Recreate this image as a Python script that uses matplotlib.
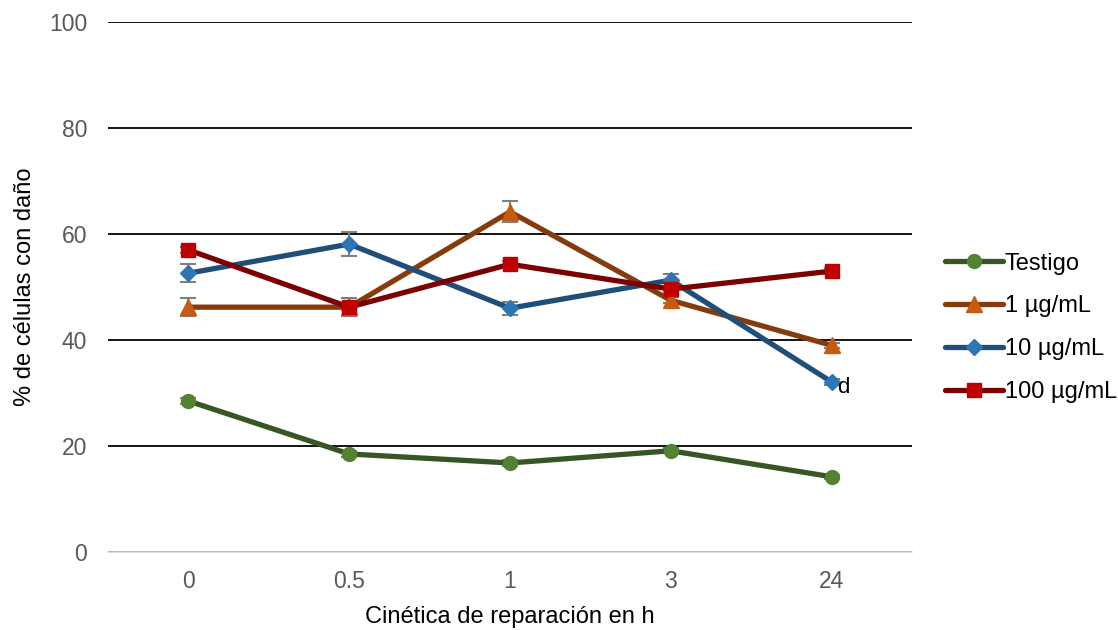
import matplotlib
matplotlib.use("Agg")
import matplotlib.pyplot as plt
import numpy as np

plt.rcParams['font.family'] = ['Liberation Sans', 'DejaVu Sans']

categories = ["0", "0.5", "1", "3", "24"]
series_names = ["Testigo", "1 µg/mL", "10 µg/mL", "100 µg/mL"]
testigo = [28.5, 18.5, 16.8, 19.1, 14.2]
dose_1 = [46.2, 46.2, 64.2, 47.5, 39.0]
dose_10 = [52.6, 58.1, 46.0, 51.3, 32.1]
dose_100 = [57.0, 46.2, 54.3, 49.6, 53.0]
err_testigo = [0.5, 0.5, 0.5, 0.5, 0.4]
err_1 = [1.7, 0.6, 2.0, 0.6, 0.5]
err_10 = [1.7, 2.2, 1.2, 1.2, 0.5]
err_100 = [0.6, 1.7, 0.6, 0.6, 0.5]
yticks = [0, 20, 40, 60, 80, 100]
note_label = "d"

values = [testigo, dose_1, dose_10, dose_100]
errors = [err_testigo, err_1, err_10, err_100]
line_colors = ["#375623", "#843C0C", "#1F4E79", "#7B0000"]
marker_colors = ["#548235", "#C55A11", "#2E75B6", "#C00000"]
markers = ["o", "^", "D", "s"]
msizes = [10, 11, 8, 10]

fig = plt.figure(figsize=(11.18, 6.3), dpi=100)
ax = fig.add_axes([0.0966, 0.1238, 0.7191, 0.8412])

x = np.arange(len(categories))
for vals, errs, lc, mc, mk, ms, name in zip(values, errors, line_colors,
                                            marker_colors, markers, msizes,
                                            series_names):
    ax.errorbar(x, vals, yerr=errs, fmt="none", ecolor="#7F7F7F",
                elinewidth=1.5, capsize=6, capthick=1.5, zorder=2)
    ax.plot(x, vals, color=lc, linewidth=3.8, marker=mk, markersize=ms,
            markerfacecolor=mc, markeredgecolor=mc, label=name, zorder=3,
            solid_capstyle="round")

ax.annotate(note_label, (x[4], dose_10[4]), xytext=(4, -4),
            textcoords="offset points", fontsize=16, color="#000000",
            ha="left", va="center")

ax.set_xlim(-0.5, len(categories) - 0.5)
ax.set_ylim(0, 100)
ax.set_xticks(x)
ax.set_xticklabels(categories)
ax.set_yticks(yticks)
ax.yaxis.grid(True, color="#000000", linewidth=1.3)
ax.set_axisbelow(True)
for side in ["top", "right", "left"]:
    ax.spines[side].set_visible(False)
ax.spines["bottom"].set_color("#D9D9D9")
ax.spines["bottom"].set_linewidth(1.2)
ax.tick_params(axis="both", length=0, labelsize=16.5, colors="#595959")
ax.tick_params(axis="x", pad=13)
ax.tick_params(axis="y", pad=15)

ax.set_xlabel("Cinética de reparación en h", fontsize=17, color="#000000",
              labelpad=9)
ax.set_ylabel("% de células con daño", fontsize=17, color="#000000",
              labelpad=9)

leg = ax.legend(loc="center left", bbox_to_anchor=(1.041, 0.423),
                frameon=False, fontsize=17, handlelength=2.45,
                labelspacing=0.88, handletextpad=0.08, borderpad=0,
                borderaxespad=0)

fig.savefig("out.png", dpi=100)
